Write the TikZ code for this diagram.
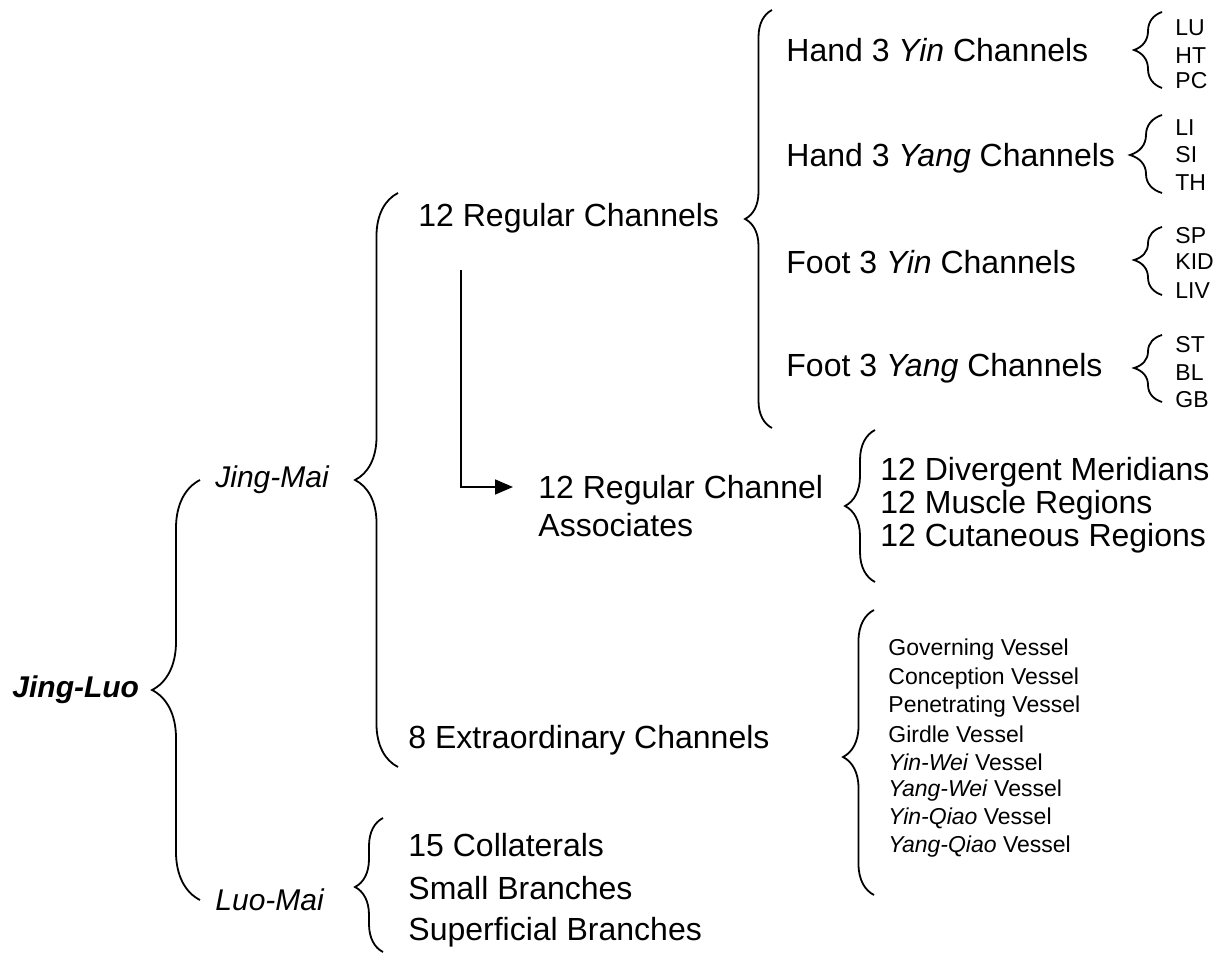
\documentclass[tikz,border=0pt]{standalone}
\usepackage{fontspec}
\setmainfont{Liberation Sans}
\usetikzlibrary{positioning,decorations.pathreplacing,arrows.meta}

\begin{document}
\begin{tikzpicture}[x=0.5pt, y=-0.5pt,
    txt/.style={anchor=west, inner sep=0pt, font=\fontsize{16}{19}\selectfont},
    sml/.style={anchor=west, inner sep=0pt, font=\fontsize{11.5}{14}\selectfont},
    curly/.style 2 args={decorate, line width=0.9pt, decoration={brace, amplitude=#1, aspect=#2}}]

    \useasboundingbox (0,0) rectangle (1225,961);

    % Root and the two main branches
    \node[txt, font=\fontsize{15}{18}\selectfont\bfseries\itshape] (jingluo) at (12,690) {Jing-Luo};
    \node[txt, font=\fontsize{15}{18}\selectfont\itshape] (jingmai) at (215,480) {Jing-Mai};
    \node[txt, font=\fontsize{15}{18}\selectfont\itshape] (luomai) at (215,900) {Luo-Mai};

    % Jing-Mai branches
    \node[txt] (regular) at (418,218) {12 Regular Channels};
    \node[txt] (extra) at (408,740) {8 Extraordinary Channels};
    \node[txt, align=left] (assoc) at (538,506) {12 Regular Channel\\Associates};

    % Luo-Mai branches
    \foreach \i/\t/\y in {1/15 Collaterals/845, 2/Small Branches/888, 3/Superficial Branches/932} {
        \node[txt] (luo\i) at (408,\y) {\t};
    }

    % Hand and foot channels
    \foreach \i/\t/\y in {1/Hand 3 \textit{Yin} Channels/50, 2/Hand 3 \textit{Yang} Channels/158,
                          3/Foot 3 \textit{Yin} Channels/262, 4/Foot 3 \textit{Yang} Channels/368} {
        \node[txt] (limb\i) at (786,\y) {\t};
    }

    % Channel abbreviations
    \foreach \t/\y in {LU/28, HT/56, PC/81, LI/128, SI/155, TH/183,
                       SP/236, KID/262, LIV/291, ST/345, BL/373, GB/400} {
        \node[sml] (ab\t) at (1175,\y) {\t};
    }

    % Associates
    \foreach \i/\t/\y in {1/12 Divergent Meridians/472, 2/12 Muscle Regions/505, 3/12 Cutaneous Regions/538} {
        \node[txt] (as\i) at (880,\y) {\t};
    }

    % Extraordinary vessels
    \foreach \i/\t in {0/Governing Vessel, 1/Conception Vessel, 2/Penetrating Vessel, 3/Girdle Vessel,
                       4/\textit{Yin-Wei} Vessel, 5/\textit{Yang-Wei} Vessel,
                       6/\textit{Yin-Qiao} Vessel, 7/\textit{Yang-Qiao} Vessel} {
        \node[sml] (ves\i) at (888,650+28.1*\i) {\t};
    }

    % Braces: name / x / top / bottom / tip / amplitude
    \foreach \n/\x/\ya/\yb/\yt/\amp in {jl/200/480/900/690/24pt, jm/398/193/767/480/21.5pt,
                                        lm/383/818/952/887/14pt, rc/772/10/428/219/13.5pt,
                                        hyin/1162/12/88/50/14pt, hyang/1162/115/193/155/16pt,
                                        fyin/1162/227/295/260/14pt, fyang/1162/335/402/368/14pt,
                                        as/875/430/582/506/15pt, ex/874/610/895/757/15.5pt} {
        \pgfmathsetmacro{\asp}{(\yb-\yt)/(\yb-\ya)}
        \coordinate (\n-bot) at (\x,\yb);
        \coordinate (\n-top) at (\x,\ya);
        \draw[curly={\amp}{\asp}] (\n-bot) -- (\n-top);
    }

    % Arrow to the associates
    \coordinate (arrtop) at (461,270);
    \coordinate (arrtip) at (513,487);
    \draw[line width=0.8pt, -{Triangle[length=9pt, width=7.5pt]}] (arrtop) |- (arrtip);
\end{tikzpicture}
\end{document}
